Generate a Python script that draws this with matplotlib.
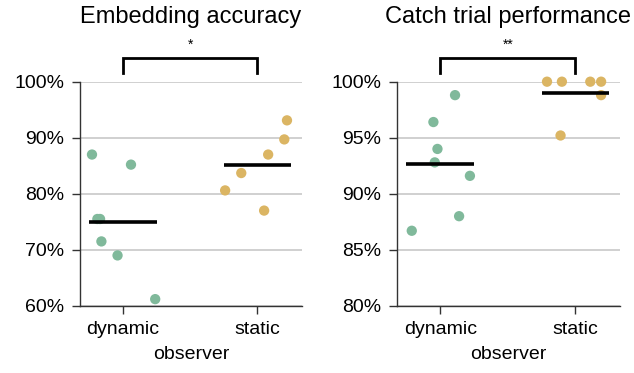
import numpy as np
import matplotlib
matplotlib.use("Agg")
import matplotlib.pyplot as plt
import matplotlib.transforms as mtransforms
from matplotlib.ticker import FuncFormatter

plt.rcParams["font.family"] = ["Liberation Sans", "DejaVu Sans"]

# observer groups on the x axis
groups = ["dynamic", "static"]

# embedding accuracy (%) per observer
embed_dynamic = [87.0, 85.2, 75.5, 75.5, 71.5, 69.0, 61.2]
embed_static = [93.1, 89.7, 87.0, 83.7, 80.6, 77.0]
# horizontal jitter used for the strip plot
embed_dyn_jit = [-0.23, 0.06, -0.19, -0.17, -0.16, -0.04, 0.24]
embed_sta_jit = [0.22, 0.20, 0.08, -0.12, -0.24, 0.05]

# catch trial performance (%) per observer
catch_dynamic = [86.7, 96.4, 94.0, 92.8, 98.8, 91.6, 88.0]
catch_static = [100.0, 100.0, 100.0, 100.0, 98.8, 95.2]
catch_dyn_jit = [-0.21, -0.05, -0.02, -0.04, 0.11, 0.22, 0.14]
catch_sta_jit = [-0.21, -0.10, 0.11, 0.19, 0.19, -0.11]

embed_ticks = [60, 70, 80, 90, 100]
catch_ticks = [80, 85, 90, 95, 100]

GREEN = "#80b99b"
GOLD = "#dbb563"


def strip_panel(ax, dyn, sta, dyn_jit, sta_jit, ticks, title, stars):
    for i, (vals, jit, col) in enumerate([(dyn, dyn_jit, GREEN), (sta, sta_jit, GOLD)]):
        ax.scatter(i + np.array(jit), vals, s=55, color=col, edgecolor="none",
                   zorder=3, clip_on=False)
        m = np.mean(vals)
        ax.plot([i - 0.25, i + 0.25], [m, m], color="black", lw=2.6,
                solid_capstyle="butt", zorder=4)

    ax.set_xlim(-0.32, 1.33)
    ax.set_ylim(ticks[0], ticks[-1])
    ax.set_yticks(ticks)
    ax.yaxis.set_major_formatter(FuncFormatter(lambda v, p: f"{v:.0f}%"))
    ax.set_xticks([0, 1])
    ax.set_xticklabels(groups)
    ax.set_xlabel("observer", fontsize=14, labelpad=6)

    ax.grid(axis="y", color="#c8c8c8", lw=1.2, zorder=0)
    ax.set_axisbelow(True)
    for s in ["top", "right"]:
        ax.spines[s].set_visible(False)
    for s in ["left", "bottom"]:
        ax.spines[s].set_color("#333333")
        ax.spines[s].set_linewidth(1.0)
    ax.tick_params(axis="both", labelsize=14, color="#333333", width=1.0, length=6, pad=5)

    # significance bracket above the two groups
    trans = mtransforms.blended_transform_factory(ax.transData, ax.transAxes)
    ax.plot([0, 0, 1, 1], [1.04, 1.107, 1.107, 1.04], color="black", lw=2,
            transform=trans, clip_on=False, solid_joinstyle="miter")
    ax.text(0.5, 1.135, stars, transform=trans, ha="center", va="bottom", fontsize=10)

    ax.text(0.5, 1.24, title, transform=ax.transAxes, ha="center", va="bottom", fontsize=17)


fig = plt.figure(figsize=(6.34, 3.73), dpi=100)
ax1 = fig.add_axes([0.126, 0.180, 0.350, 0.601])
ax2 = fig.add_axes([0.626, 0.180, 0.352, 0.601])

strip_panel(ax1, embed_dynamic, embed_static, embed_dyn_jit, embed_sta_jit,
            embed_ticks, "Embedding accuracy", "*")
strip_panel(ax2, catch_dynamic, catch_static, catch_dyn_jit, catch_sta_jit,
            catch_ticks, "Catch trial performance", "**")

fig.savefig("out.png", dpi=100)
